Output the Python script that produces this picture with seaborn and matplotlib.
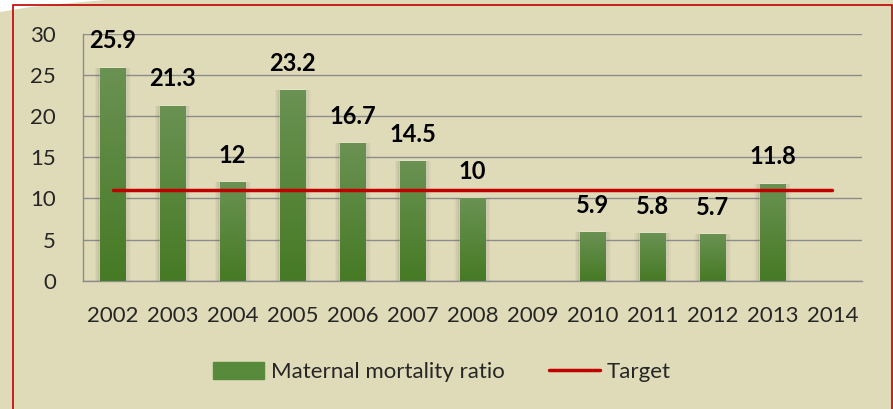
import numpy as np
import pandas as pd
import matplotlib
matplotlib.use("Agg")
import matplotlib.pyplot as plt
from matplotlib.patches import Rectangle, Polygon
from matplotlib.lines import Line2D
from matplotlib.colors import LinearSegmentedColormap
import seaborn as sns

# ── Datos ──────────────────────────────────────────────────────────────────────
years = ["2002", "2003", "2004", "2005", "2006", "2007", "2008",
         "2009", "2010", "2011", "2012", "2013", "2014"]
mmr = [25.9, 21.3, 12, 23.2, 16.7, 14.5, 10, np.nan, 5.9, 5.8, 5.7, 11.8, np.nan]
target = [11] * len(years)
y_ticks = [0, 5, 10, 15, 20, 25, 30]

BG = "#dfdbb8"
GREEN_TOP = "#6a9253"
GREEN_BOT = "#467a24"
RED = "#c00000"
GRID = "#8c8c8c"
W, H = 893, 409

sns.set_style("white")
plt.rcParams["font.family"] = ["Lato", "DejaVu Sans"]

fig = plt.figure(figsize=(W / 100, H / 100), dpi=100, facecolor=BG)
ax = fig.add_axes([82.5 / W, 1 - 280.7 / H, 780 / W, 246.7 / H])
ax.set_facecolor(BG)

df = pd.DataFrame({"year": years, "mmr": mmr})
sns.barplot(data=df, x="year", y="mmr", color=GREEN_BOT, width=0.42,
            saturation=1, ax=ax, zorder=3)

# degradado vertical en cada barra
cmap = LinearSegmentedColormap.from_list("g", [GREEN_BOT, GREEN_TOP])
grad = np.linspace(0, 1, 256).reshape(-1, 1)
for p in list(ax.patches):
    h = p.get_height()
    if not np.isfinite(h) or h <= 0:
        continue
    x0, w = p.get_x(), p.get_width()
    # sombra suave
    for k, a in enumerate([0.10, 0.07, 0.04]):
        d = 0.03 * (k + 1)
        ax.add_patch(Rectangle((x0 - d, 0), w + 2 * d, h, color="#555040",
                               alpha=a, lw=0, zorder=2.5))
    im = ax.imshow(grad, extent=[x0, x0 + w, 0, h], origin="lower",
                   aspect="auto", cmap=cmap, zorder=3.2)
    im.set_clip_path(p)
    ax.annotate(f"{h:g}", (x0 + w / 2, h), xytext=(0, 11),
                textcoords="offset points", ha="center", va="bottom",
                fontsize=17, fontweight="bold", color="black", zorder=5)

# línea objetivo
ax.plot(range(len(years)), target, color=RED, lw=2.5, zorder=4)

ax.set_xlim(-0.5, len(years) - 0.5)
ax.set_ylim(0, 30)
ax.set_yticks(y_ticks)
ax.grid(axis="y", color=GRID, lw=1, zorder=0)
ax.set_axisbelow(True)
for s in ["top", "right"]:
    ax.spines[s].set_visible(False)
for s in ["left", "bottom"]:
    ax.spines[s].set_color(GRID)
    ax.spines[s].set_linewidth(1)
ax.set_xlabel("")
ax.set_ylabel("")
ax.tick_params(axis="y", length=8, color=GRID, labelsize=16, pad=11)
ax.tick_params(axis="x", which="major", length=0, labelsize=16, pad=18)
ax.set_xticks(np.arange(-0.5, len(years), 1), minor=True)
ax.tick_params(axis="x", which="minor", length=8, color=GRID)

# leyenda
handles = [Rectangle((0, 0), 1, 1, color="#578a3a"),
           Line2D([0], [0], color=RED, lw=2.5)]
fig.legend(handles, ["Maternal mortality ratio", "Target"], loc="center",
           bbox_to_anchor=(0.495, 1 - 372 / H), ncol=2, frameon=False,
           fontsize=16, handlelength=2.3, handleheight=0.8,
           columnspacing=2.0, handletextpad=0.3)

# marco rojo y esquina blanca
corner = [[0, 0], [105, 0], [60, 4], [30, 7], [0, 12]]
fig.patches.append(Polygon([[x / W, 1 - y / H] for x, y in corner],
                           closed=True, transform=fig.transFigure,
                           facecolor="white", edgecolor="none", zorder=0))
fig.patches.append(Rectangle((13 / W, -0.02), 879 / W, 1.02 - 5 / H,
                             transform=fig.transFigure, fill=False,
                             edgecolor=RED, lw=1.2, zorder=10))

fig.savefig("out.png", dpi=100, facecolor=BG)
